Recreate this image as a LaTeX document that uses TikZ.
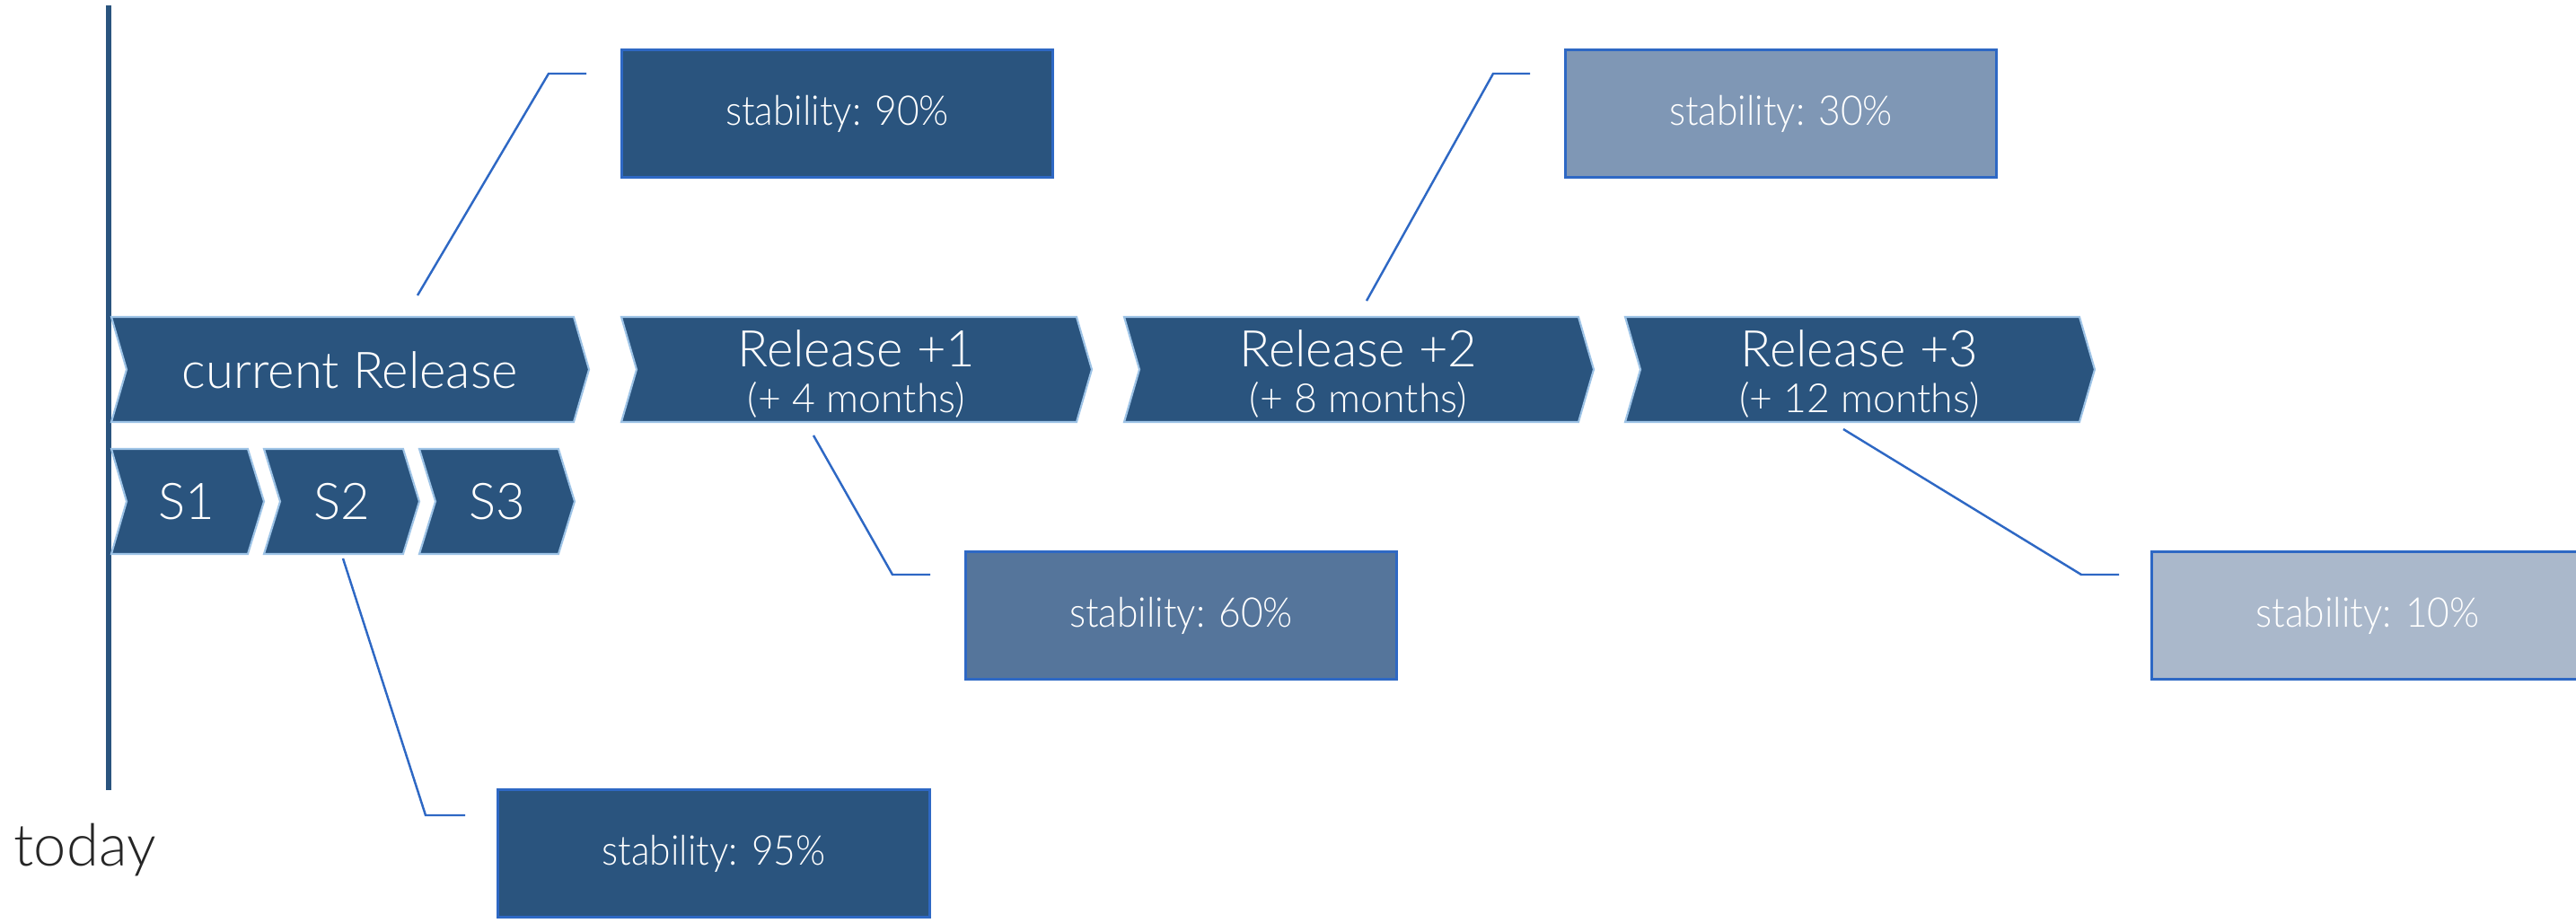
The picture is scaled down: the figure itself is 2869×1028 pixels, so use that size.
\documentclass[tikz,border=0pt]{standalone}
\usepackage{fontspec}
\setmainfont{Lato Light}
\newfontfamily\narrowface{Lato Light}[FakeStretch=0.93]
\definecolor{navy}{HTML}{2A547E}
\definecolor{rim}{HTML}{9DC3E6}
\definecolor{callout}{HTML}{2E68C4}
\definecolor{fillA}{HTML}{2A547E}
\definecolor{fillB}{HTML}{55759B}
\definecolor{fillC}{HTML}{7F97B5}
\definecolor{fillD}{HTML}{AAB8CB}
\definecolor{ink}{HTML}{262626}
\tikzset{
  chev/.style={fill=navy, draw=rim, line width=0.6pt, line join=miter},
  bigtxt/.style={text=white, inner sep=0pt, font=\fontsize{16}{19}\selectfont},
  smalltxt/.style={text=white, inner sep=0pt, font=\fontsize{12.7}{15}\selectfont},
  statbox/.style={draw=callout, line width=0.85pt, minimum width=4.8cm,
    minimum height=1.42cm, inner sep=0pt, text=white,
    font=\narrowface\fontsize{13}{15}\selectfont},
  leader/.style={draw=callout, line width=0.7pt},
  nowline/.style={draw=navy, line width=1.7pt}
}
\begin{document}
\begin{tikzpicture}[x=0.01cm, y=-0.01cm]
\useasboundingbox (0,0) rectangle (2869,1028);

% "today" marker line
\coordinate (nowtop) at (121,6);
\coordinate (nowbot) at (121,880);
\draw[nowline] (nowtop) -- (nowbot);
\node[anchor=base west, inner sep=0pt, text=ink,
      font=\fontsize{18.5}{22}\selectfont] (today) at (15,964) {today};

% release chevrons
\path[chev] (124,353) -- (639,353) -- (656,411.5) -- (639,470) -- (124,470) -- (141,411.5) -- cycle;
\path[chev] (692,353) -- (1199,353) -- (1216,411.5) -- (1199,470) -- (692,470) -- (709,411.5) -- cycle;
\path[chev] (1252,353) -- (1758,353) -- (1775,411.5) -- (1758,470) -- (1252,470) -- (1269,411.5) -- cycle;
\path[chev] (1810,353) -- (2316,353) -- (2333,411.5) -- (2316,470) -- (1810,470) -- (1827,411.5) -- cycle;

\node[bigtxt] (cur) at (390,412) {current Release};
\node[bigtxt] (r1) at (954,388) {Release +1};
\node[smalltxt] (r1m) at (954,445) {(+ 4 months)};
\node[bigtxt] (r2) at (1513,388) {Release +2};
\node[smalltxt] (r2m) at (1513,445) {(+ 8 months)};
\node[bigtxt] (r3) at (2071,388) {Release +3};
\node[smalltxt] (r3m) at (2071,445) {(+ 12 months)};

% sprint chevrons
\path[chev] (124,500) -- (276,500) -- (294,558.5) -- (276,617) -- (124,617) -- (141,558.5) -- cycle;
\path[chev] (294,500) -- (449,500) -- (467,558.5) -- (449,617) -- (294,617) -- (312,558.5) -- cycle;
\path[chev] (467,500) -- (622,500) -- (640,558.5) -- (622,617) -- (467,617) -- (485,558.5) -- cycle;

\node[bigtxt] (s1) at (208,559) {S1};
\node[bigtxt] (s2) at (381,559) {S2};
\node[bigtxt] (s3) at (554,559) {S3};

% stability boxes
\node[statbox, fill=fillA] (st90) at (932.5,126.5) {stability: 90\%};
\node[statbox, fill=fillC] (st30) at (1983.5,126.5) {stability: 30\%};
\node[statbox, fill=fillB] (st60) at (1315.5,685.5) {stability: 60\%};
\node[statbox, fill=fillD] (st10) at (2637,685.5) {stability: 10\%};
\node[statbox, fill=fillA] (st95) at (795,950.5) {stability: 95\%};

% callout leaders
\coordinate (a90) at (465,329);  \coordinate (b90) at (611,82);  \coordinate (e90) at (653,82);
\coordinate (a30) at (1522,335); \coordinate (b30) at (1663,82); \coordinate (e30) at (1704,82);
\coordinate (a60) at (906,485);  \coordinate (b60) at (994,640); \coordinate (e60) at (1036,640);
\coordinate (a10) at (2053,478); \coordinate (b10) at (2318,640); \coordinate (e10) at (2360,640);
\coordinate (a95) at (382,622);  \coordinate (b95) at (474,908); \coordinate (e95) at (518,908);
\draw[leader] (a90) -- (b90) -- (e90);
\draw[leader] (a30) -- (b30) -- (e30);
\draw[leader] (a60) -- (b60) -- (e60);
\draw[leader] (a10) -- (b10) -- (e10);
\draw[leader] (a95) -- (b95) -- (e95);
\end{tikzpicture}
\end{document}
